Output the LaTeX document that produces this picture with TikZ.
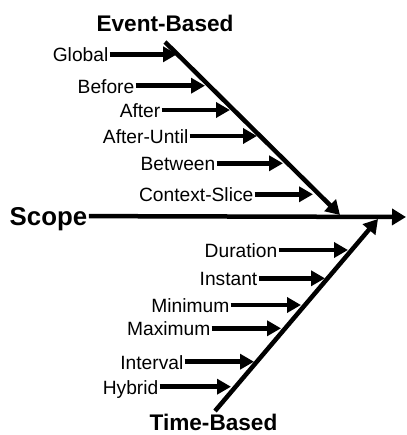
\documentclass[tikz,border=0pt]{standalone}
\usepackage{fontspec}
\setmainfont{Liberation Sans}
\usetikzlibrary{arrows.meta}
\tikzset{
  lbl/.style={inner sep=1pt, anchor=east, font=\fontsize{19.2}{22}\selectfont, text height=15pt, text depth=0pt},
  head/.style={inner sep=0pt, font=\bfseries\fontsize{22.6}{26}\selectfont},
  scopelbl/.style={inner sep=1.5pt, anchor=base west, font=\bfseries\fontsize{25.8}{30}\selectfont, text height=19pt, text depth=0pt},
  mainline/.style={line width=4.5pt, -{Triangle[length=14pt,width=16pt]}},
  branch/.style={line width=4.5pt, -{Triangle[length=14pt,width=15pt]}}
}
\begin{document}
\begin{tikzpicture}[x=1pt,y=-1pt]
\useasboundingbox (0,0) rectangle (406,435);
% headings
\node[head, anchor=base] (eb) at (165,31.5) {Event-Based};
\node[head, anchor=base] (tb) at (213.5,430.5) {Time-Based};
\node[scopelbl] (scope) at (8,225.5) {Scope};
% main lines
\coordinate (sc) at (406,217);
\coordinate (e1) at (165,42);
\coordinate (e2) at (340,215);
\coordinate (t1) at (215,411);
\coordinate (t2) at (378,219);
\draw[mainline] (scope) -- (sc);
\draw[mainline] (e1) -- (e2);
\draw[mainline] (t1) -- (t2);
% event-based branches
\node[lbl] (global) at (109.5,54.3) {Global};
\node[lbl] (before) at (135.5,85.7) {Before};
\node[lbl] (after) at (161.5,110) {After};
\node[lbl] (afteruntil) at (189.5,136) {After-Until};
\node[lbl] (between) at (216.5,163.3) {Between};
\node[lbl] (context) at (254.5,194.3) {Context-Slice};
\coordinate (globalE) at (177,54.3);
\coordinate (beforeE) at (205,85.7);
\coordinate (afterE) at (230,110);
\coordinate (afteruntilE) at (257,136);
\coordinate (betweenE) at (283,163.3);
\coordinate (contextE) at (313,194.3);
\draw[branch] (global) -- (globalE);
\draw[branch] (before) -- (beforeE);
\draw[branch] (after) -- (afterE);
\draw[branch] (afteruntil) -- (afteruntilE);
\draw[branch] (between) -- (betweenE);
\draw[branch] (context) -- (contextE);
% time-based branches
\node[lbl] (duration) at (278.5,250) {Duration};
\node[lbl] (instant) at (258.5,278.3) {Instant};
\node[lbl] (minimum) at (230.5,305) {Minimum};
\node[lbl] (maximum) at (211.5,328.3) {Maximum};
\node[lbl] (interval) at (184.5,361.7) {Interval};
\node[lbl] (hybrid) at (159.5,386.7) {Hybrid};
\coordinate (durationE) at (348,250);
\coordinate (instantE) at (325,278.3);
\coordinate (minimumE) at (301,305);
\coordinate (maximumE) at (281,328.3);
\coordinate (intervalE) at (254,361.7);
\coordinate (hybridE) at (231,386.7);
\draw[branch] (duration) -- (durationE);
\draw[branch] (instant) -- (instantE);
\draw[branch] (minimum) -- (minimumE);
\draw[branch] (maximum) -- (maximumE);
\draw[branch] (interval) -- (intervalE);
\draw[branch] (hybrid) -- (hybridE);
\end{tikzpicture}
\end{document}
